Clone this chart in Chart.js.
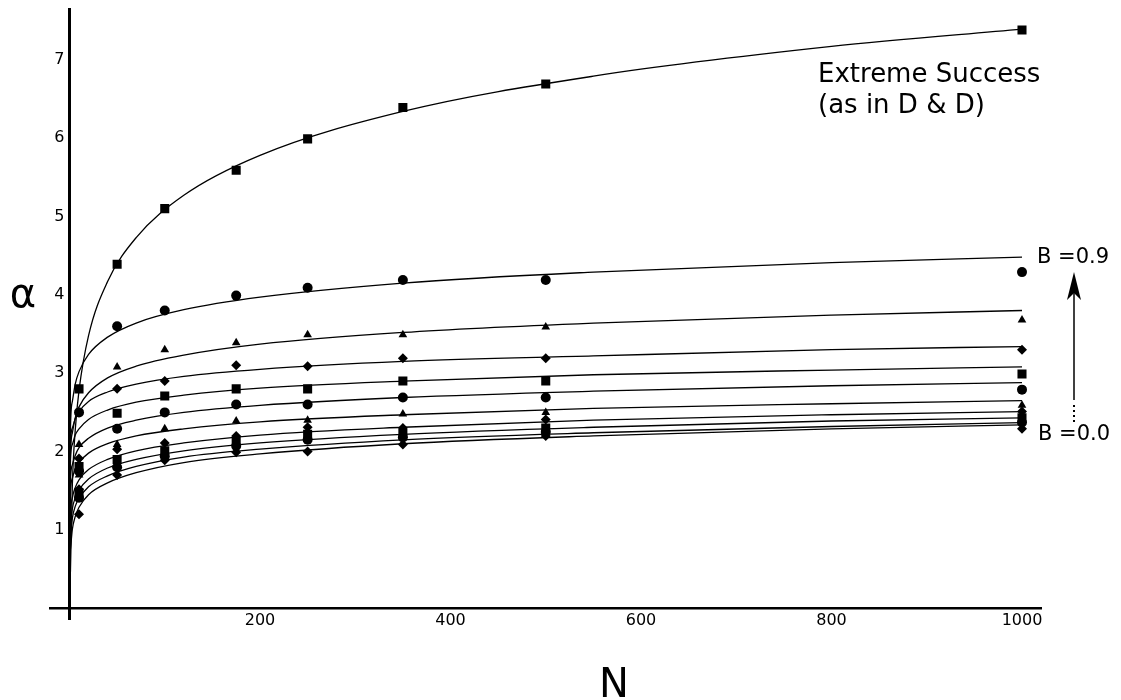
<!DOCTYPE html>
<html>
<head>
<meta charset="utf-8">
<script src="https://cdn.jsdelivr.net/npm/chart.js@4.4.1/dist/chart.umd.min.js"></script>
<style>
  html, body { margin: 0; padding: 0; background: #fff; }
  canvas { display: block; }
</style>
</head>
<body>
<canvas id="chart" width="1121" height="700"></canvas>
<script>
// N values where the simulated points sit
const sampleN = [10, 50, 100, 175, 250, 350, 500, 1000];
// N values the fitted curves are read at
const curveN = [0, 1, 3, 6, 10, 20, 40, 70, 120, 200, 350, 550, 800, 1000];

const xTicks = [200, 400, 600, 800, 1000];
const yTicks = [1, 2, 3, 4, 5, 6, 7];

// Extreme Success (as in D & D)
const ptsExtreme   = [2.80, 4.39, 5.10, 5.59, 5.99, 6.39, 6.69, 7.38];
const curveExtreme = [0.30, 0.48, 1.58, 2.27, 2.78, 3.48, 4.17, 4.73, 5.27, 5.78, 6.34, 6.79, 7.17, 7.39];

// B = 0.9 ... 0.0
const pts09 = [2.50, 3.60, 3.80, 3.99, 4.09, 4.19, 4.19, 4.29];
const pts08 = [2.09, 3.08, 3.30, 3.39, 3.49, 3.49, 3.59, 3.68];
const pts07 = [1.91, 2.80, 2.90, 3.10, 3.09, 3.19, 3.19, 3.30];
const pts06 = [1.81, 2.49, 2.71, 2.80, 2.80, 2.90, 2.90, 2.99];
const pts05 = [1.75, 2.29, 2.50, 2.60, 2.60, 2.69, 2.69, 2.79];
const pts04 = [1.70, 2.09, 2.29, 2.39, 2.40, 2.48, 2.50, 2.59];
const pts03 = [1.52, 2.03, 2.11, 2.20, 2.31, 2.30, 2.41, 2.51];
const pts02 = [1.47, 1.90, 2.01, 2.13, 2.22, 2.23, 2.30, 2.43];
const pts01 = [1.41, 1.80, 1.94, 2.07, 2.15, 2.18, 2.25, 2.37];
const pts00 = [1.20, 1.70, 1.89, 1.99, 2.00, 2.09, 2.20, 2.29];

const curve09 = [0.7, 2.29, 2.64, 2.86, 3.02, 3.24, 3.46, 3.64, 3.81, 3.97, 4.15, 4.29, 4.41, 4.48];
const curve08 = [0.7, 1.95, 2.24, 2.43, 2.57, 2.75, 2.94, 3.09, 3.23, 3.37, 3.52, 3.64, 3.74, 3.80];
const curve07 = [0.7, 2.10, 2.30, 2.42, 2.51, 2.64, 2.76, 2.86, 2.96, 3.05, 3.15, 3.22, 3.30, 3.34];
const curve06 = [0.7, 1.90, 2.09, 2.21, 2.29, 2.41, 2.53, 2.63, 2.72, 2.81, 2.90, 2.98, 3.04, 3.08];
const curve05 = [0.7, 1.63, 1.83, 1.95, 2.05, 2.17, 2.30, 2.40, 2.50, 2.59, 2.69, 2.77, 2.84, 2.88];
const curve04 = [0.7, 1.47, 1.66, 1.78, 1.86, 1.98, 2.10, 2.20, 2.29, 2.38, 2.47, 2.55, 2.61, 2.65];
const curve03 = [0.7, 1.20, 1.41, 1.54, 1.64, 1.77, 1.90, 2.01, 2.11, 2.21, 2.31, 2.40, 2.47, 2.51];
const curve02 = [0.7, 1.05, 1.27, 1.41, 1.51, 1.65, 1.79, 1.90, 2.01, 2.11, 2.22, 2.31, 2.39, 2.43];
const curve01 = [0.7, 0.92, 1.15, 1.30, 1.40, 1.55, 1.69, 1.81, 1.93, 2.03, 2.15, 2.24, 2.32, 2.37];
const curve00 = [0.7, 0.76, 1.01, 1.17, 1.29, 1.45, 1.60, 1.73, 1.86, 1.97, 2.10, 2.20, 2.29, 2.34];

const series = [
  { pts: ptsExtreme, curve: curveExtreme, shape: 'rect' },
  { pts: pts09, curve: curve09, shape: 'circle' },
  { pts: pts08, curve: curve08, shape: 'triangle' },
  { pts: pts07, curve: curve07, shape: 'rectRot' },
  { pts: pts06, curve: curve06, shape: 'rect' },
  { pts: pts05, curve: curve05, shape: 'circle' },
  { pts: pts04, curve: curve04, shape: 'triangle' },
  { pts: pts03, curve: curve03, shape: 'rectRot' },
  { pts: pts02, curve: curve02, shape: 'rect' },
  { pts: pts01, curve: curve01, shape: 'circle' },
  { pts: pts00, curve: curve00, shape: 'rectRot' }
];

const markerSize = { rect: 6.4, circle: 5, triangle: 5, rectRot: 5 };

const datasets = [];
series.forEach(s => {
  datasets.push({
    type: 'line',
    data: curveN.map((n, i) => ({ x: n, y: s.curve[i] })),
    borderColor: '#000',
    borderWidth: 1.3,
    pointRadius: 0,
    cubicInterpolationMode: 'monotone',
    fill: false
  });
  datasets.push({
    type: 'scatter',
    data: sampleN.map((n, i) => ({ x: n, y: s.pts[i] })),
    showLine: false,
    pointStyle: s.shape,
    pointRadius: markerSize[s.shape],
    pointBackgroundColor: '#000',
    pointBorderColor: '#000',
    pointBorderWidth: 0
  });
});

const FONT = '"DejaVu Sans", sans-serif';

const overlay = {
  id: 'overlay',
  afterDraw(chart) {
    const { ctx, chartArea, scales: { x, y } } = chart;
    const x0 = x.getPixelForValue(0);
    const y0 = y.getPixelForValue(0);
    ctx.save();
    ctx.strokeStyle = '#000';
    ctx.fillStyle = '#000';

    // axes crossing at the origin
    ctx.lineWidth = 3;
    ctx.beginPath();
    ctx.moveTo(x0, chartArea.top);
    ctx.lineTo(x0, 620);
    ctx.stroke();
    ctx.lineWidth = 2.5;
    ctx.beginPath();
    ctx.moveTo(49, y0);
    ctx.lineTo(chartArea.right, y0);
    ctx.stroke();

    // axis names
    ctx.textAlign = 'center';
    ctx.textBaseline = 'middle';
    ctx.font = '40px ' + FONT;
    ctx.fillText('α', 23, 297);
    ctx.textBaseline = 'alphabetic';
    ctx.fillText('N', 614, 697);

    // labels
    ctx.textAlign = 'left';
    ctx.font = '26px ' + FONT;
    ctx.fillText('Extreme Success', 818, 82);
    ctx.fillText('(as in D & D)', 818, 113);
    ctx.font = '21px ' + FONT;
    ctx.fillText('B =0.9', 1037, 263);
    ctx.fillText('B =0.0', 1038, 440);

    // arrow from B=0.0 up to B=0.9
    ctx.lineWidth = 1.5;
    ctx.beginPath();
    ctx.moveTo(1074, 400);
    ctx.lineTo(1074, 290);
    ctx.stroke();
    ctx.beginPath();
    ctx.moveTo(1074, 272);
    ctx.lineTo(1081, 300);
    ctx.lineTo(1074, 293);
    ctx.lineTo(1067, 300);
    ctx.closePath();
    ctx.fill();
    [405, 410, 415, 420].forEach(d => ctx.fillRect(1073, d, 2, 2));

    ctx.restore();
  }
};

new Chart(document.getElementById('chart'), {
  type: 'scatter',
  data: { datasets },
  options: {
    responsive: false,
    animation: false,
    layout: { padding: { left: 0, right: 79, top: 8, bottom: 0 } },
    plugins: {
      legend: { display: false },
      tooltip: { enabled: false }
    },
    scales: {
      x: {
        type: 'linear',
        min: 0,
        max: 1021,
        grid: { display: false, drawTicks: false },
        border: { display: false },
        afterBuildTicks: (scale) => { scale.ticks = xTicks.map(v => ({ value: v })); },
        afterFit: (scale) => { scale.height = 91.7; },
        ticks: {
          color: '#000',
          padding: 3,
          maxRotation: 0,
          callback: (v) => String(v),
          font: { family: FONT, size: 16 }
        }
      },
      y: {
        type: 'linear',
        min: 0,
        max: 7.66,
        grid: { display: false, drawTicks: false },
        border: { display: false },
        afterBuildTicks: (scale) => { scale.ticks = yTicks.map(v => ({ value: v })); },
        afterFit: (scale) => {
          scale.width = 69.5;
          scale.paddingTop = 0;
          scale.paddingBottom = 0;
        },
        ticks: {
          color: '#000',
          padding: 5,
          callback: (v) => String(v),
          font: { family: FONT, size: 16 }
        }
      }
    }
  },
  plugins: [overlay]
});
</script>
</body>
</html>
